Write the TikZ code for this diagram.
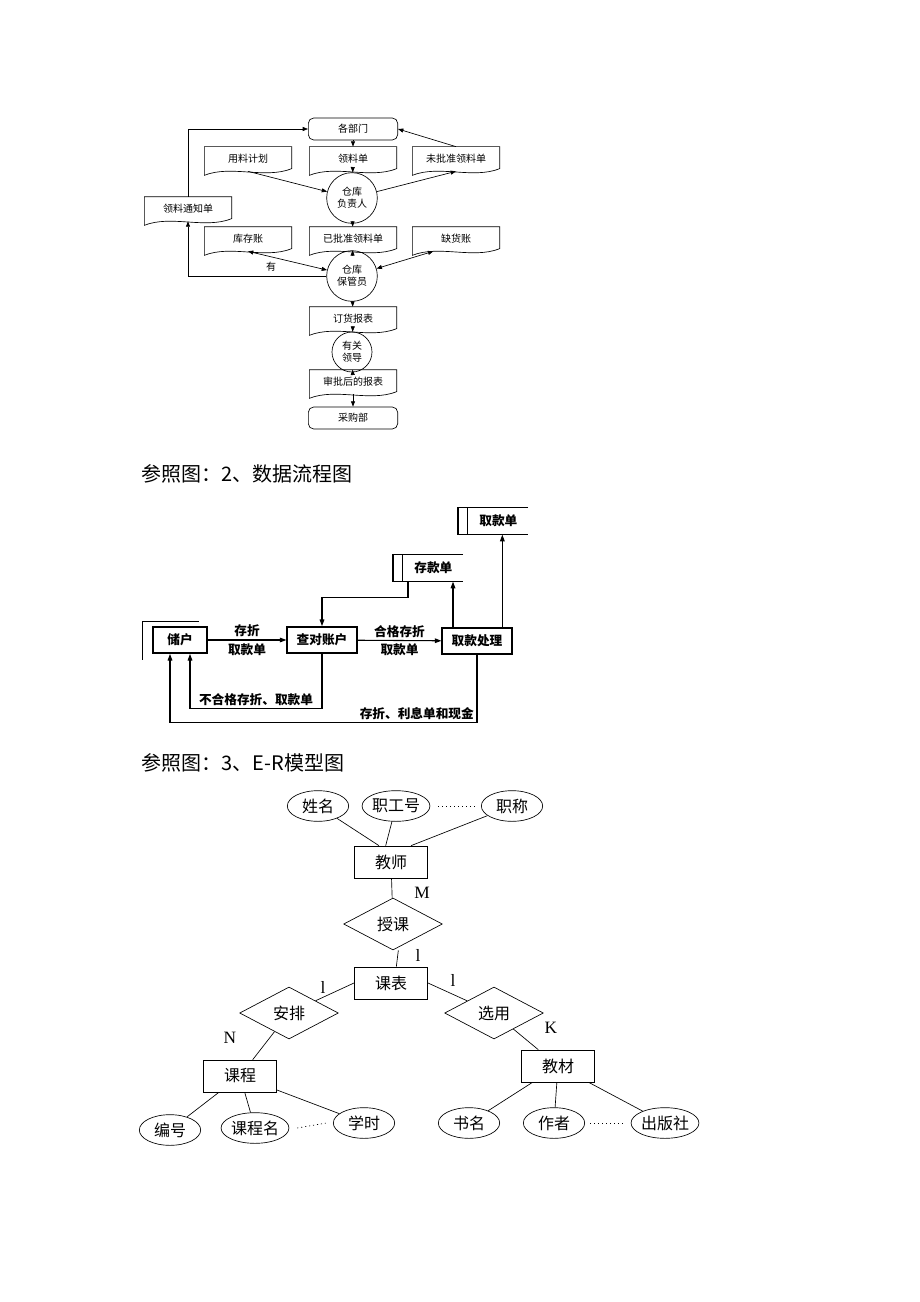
\documentclass[tikz,border=0pt]{standalone}
\usepackage{fontspec}
\setmainfont{Liberation Serif}
\newfontfamily\cjk{Noto Sans CJK SC}
\usetikzlibrary{arrows.meta,shapes.geometric}
\tikzset{
	arr/.style={-{Triangle[length=4pt,width=3pt]}},
	barr/.style={{Triangle[length=4pt,width=3pt]}-{Triangle[length=4pt,width=3pt]}},
	doc/.style={minimum width=65pt,minimum height=18pt,inner sep=0pt,font=\cjk\fontsize{7.5}{8}\selectfont},
	term/.style={draw,rounded corners=4pt,minimum width=67pt,minimum height=16.5pt,inner sep=0pt,font=\cjk\fontsize{7.5}{8}\selectfont},
	proc/.style={draw,circle,minimum size=38pt,inner sep=0pt,align=center,font=\cjk\fontsize{7.5}{9}\selectfont},
	box/.style={draw,line width=1.3pt,minimum height=19.5pt,inner sep=2pt,font=\cjk\bfseries\fontsize{9.5}{10}\selectfont},
	store/.style={minimum width=52pt,minimum height=20pt,inner sep=0pt,font=\cjk\bfseries\fontsize{9.5}{10}\selectfont},
	flow/.style={line width=0.8pt,-{Triangle[length=5pt,width=3.5pt]}},
	lbl/.style={font=\cjk\bfseries\fontsize{9.5}{11}\selectfont,inner sep=2pt},
	attr/.style={draw,ellipse,minimum width=46pt,minimum height=23pt,inner sep=0pt,font=\cjk\fontsize{12}{12}\selectfont},
	ent/.style={draw,minimum width=55pt,minimum height=24pt,font=\cjk\fontsize{12}{12}\selectfont},
	rel/.style={draw,diamond,minimum width=74pt,minimum height=39pt,inner sep=0pt,font=\cjk\fontsize{12}{12}\selectfont},
	card/.style={font=\fontsize{13}{13}\selectfont},
	dots/.style={dash pattern=on 0.8pt off 2.2pt},
	caption/.style={anchor=west,font=\cjk\fontsize{15}{15}\selectfont}
}
% document with wavy bottom
\newcommand\docshape[1]{\draw (#1.north west) -- (#1.north east) -- ([yshift=2pt]#1.south east)
	.. controls ([xshift=-20pt,yshift=-6pt]#1.south east) and ([xshift=20pt,yshift=5pt]#1.south west) .. ([yshift=-3pt]#1.south west) -- cycle;}
% data store, open on the right
\newcommand\storeshape[1]{\draw[line width=1pt] (#1.north east) -- (#1.north west) -- (#1.south west) -- (#1.south east);
	\draw[line width=1pt] ([xshift=7pt]#1.north west) -- ([xshift=7pt]#1.south west);}
\begin{document}
\begin{tikzpicture}[x=0.75pt,y=-0.75pt,line width=0.5pt]
\useasboundingbox (0,0) rectangle (920,1302);

% material flow
\node[term] (bm) at (353,129) {各部门};
\node[doc] (plan) at (248,159) {用料计划};
\node[doc] (ldan) at (353,159) {领料单};
\node[doc] (wpz) at (456,159) {未批准领料单};
\node[proc] (fzr) at (352,198) {仓库\\负责人};
\node[doc] (tzd) at (188,209) {领料通知单};
\node[doc] (kcz) at (248,239) {库存账};
\node[doc] (ypz) at (353,239) {已批准领料单};
\node[doc] (qhz) at (456,239) {缺货账};
\node[proc] (bgy) at (352,276) {仓库\\保管员};
\node[doc] (dhb) at (353,319) {订货报表};
\node[proc,minimum size=30pt] (yld) at (352,352) {有关\\领导};
\node[doc] (spb) at (353,382) {审批后的报表};
\node[term] (cgb) at (353,418) {采购部};
\foreach \d in {plan,ldan,wpz,tzd,kcz,ypz,qhz,dhb,spb} {\docshape{\d}}

\draw[arr] (tzd.north) |- (bm.west);
\draw[arr] (bm) -- (ldan);
\draw[arr] (wpz.north) -- (bm.east);
\draw[arr] (plan.south) -- (fzr);
\draw[arr] (ldan) -- (fzr);
\draw[arr] (fzr) -- (wpz.south);
\draw[arr] (fzr) -- (ypz);
\draw[barr] (kcz.south) -- (bgy);
\draw[barr] ([xshift=-17pt]qhz.south) -- (bgy);
\draw[arr] (ypz) -- (bgy);
\draw[arr] (bgy.west) -| (tzd.south) node[pos=0.2,above,font=\cjk\fontsize{7.5}{8}\selectfont] {有};
\draw[arr] (bgy) -- (dhb);
\draw[arr] (dhb) -- (yld);
\draw[arr] (yld) -- (spb);
\draw[arr] (spb) -- (cgb);

\node[caption] (cap2) at (137,474) {参照图：2、数据流程图};

% data flow
\node[box,minimum width=40pt] (ch) at (180,640) {储户};
\node[box,minimum width=52pt] (cdzh) at (322,640) {查对账户};
\node[box,minimum width=52pt] (qkcl) at (477,641) {取款处理};
\node[store] (ckd) at (428,568) {\hspace{8pt}存款单};
\node[store] (qkd) at (493,521) {\hspace{8pt}取款单};
\storeshape{ckd}
\storeshape{qkd}
\draw[line width=0.8pt] ([xshift=-7.5pt,yshift=-4.5pt]ch.south west) |- ([xshift=-6.75pt,yshift=3.75pt]ch.north east);

\draw[flow] (ch) -- (cdzh) node[lbl,midway,above] {存折} node[lbl,midway,below] {取款单};
\draw[flow] (cdzh) -- (qkcl) node[lbl,midway,above] {合格存折} node[lbl,midway,below] {取款单};
\draw[flow] ([xshift=-15pt]ckd.south) -- ++(0,16) -| (cdzh.north);
\draw[flow] ([xshift=-18pt]qkcl.north) -- ([xshift=-18pt]qkcl.north |- ckd.south);
\draw[flow] ([xshift=19pt]qkcl.north) -- ([xshift=19pt]qkcl.north |- qkd.south);
\draw[flow] (cdzh.south) -- ++(0,55) -| ([xshift=7.5pt]ch.south) node[lbl,pos=0.25,above] {不合格存折、取款单};
\draw[flow] (qkcl.south) -- ++(0,68) -| ([xshift=-7.5pt]ch.south) node[lbl,pos=0,above left] {存折、利息单和现金};

\node[caption] (cap3) at (137,763) {参照图：3、E-R模型图};

% E-R model
\node[attr] (xm) at (318,806) {姓名};
\node[attr] (gh) at (396,806) {职工号};
\node[attr] (zc) at (512,806) {职称};
\node[ent] (js) at (391,862) {教师};
\node[rel] (sk) at (393,924) {授课};
\node[ent] (kb) at (391,983) {课表};
\node[rel] (ap) at (289,1013) {安排};
\node[rel] (xy) at (494,1013) {选用};
\node[ent] (kc) at (240,1076) {课程};
\node[ent] (jc) at (558,1066) {教材};
\node[attr] (bh) at (170,1130) {编号};
\node[attr] (kcm) at (255,1128) {课程名};
\node[attr] (xs) at (364,1123) {学时};
\node[attr] (sm) at (469,1123) {书名};
\node[attr] (zz) at (554,1123) {作者};
\node[attr] (cbs) at (665,1123) {出版社};

\draw (xm) -- ([xshift=-9pt]js.north);
\draw (gh) -- ([xshift=-4pt]js.north);
\draw (zc) -- ([xshift=15pt]js.north);
\draw[dots] ([xshift=6pt]gh.east) -- ([xshift=-4pt]zc.west);
\draw (js) -- (sk);
\draw ([xshift=4pt]sk.south) -- ([xshift=4pt]kb.north);
\draw (kb.west) -- (ap);
\draw (kb.east) -- (xy);
\draw (ap) -- (kc);
\draw (xy) -- (jc);
\draw (kc) -- (bh);
\draw (kc) -- (kcm);
\draw (kc) -- (xs);
\draw[dots] ([xshift=6pt]kcm.east) -- ([xshift=-5pt]xs.west);
\draw (jc) -- (sm);
\draw (jc) -- (zz);
\draw (jc) -- (cbs);
\draw[dots] ([xshift=4pt]zz.east) -- ([xshift=-5pt]cbs.west);

\node[card] (cm) at (422,893) {M};
\node[card] (c1) at (418,955) {l};
\node[card] (c2) at (323,987) {l};
\node[card] (c3) at (453,980) {l};
\node[card] (ck) at (551,1028) {K};
\node[card] (cn) at (230,1038) {N};
\end{tikzpicture}
\end{document}
